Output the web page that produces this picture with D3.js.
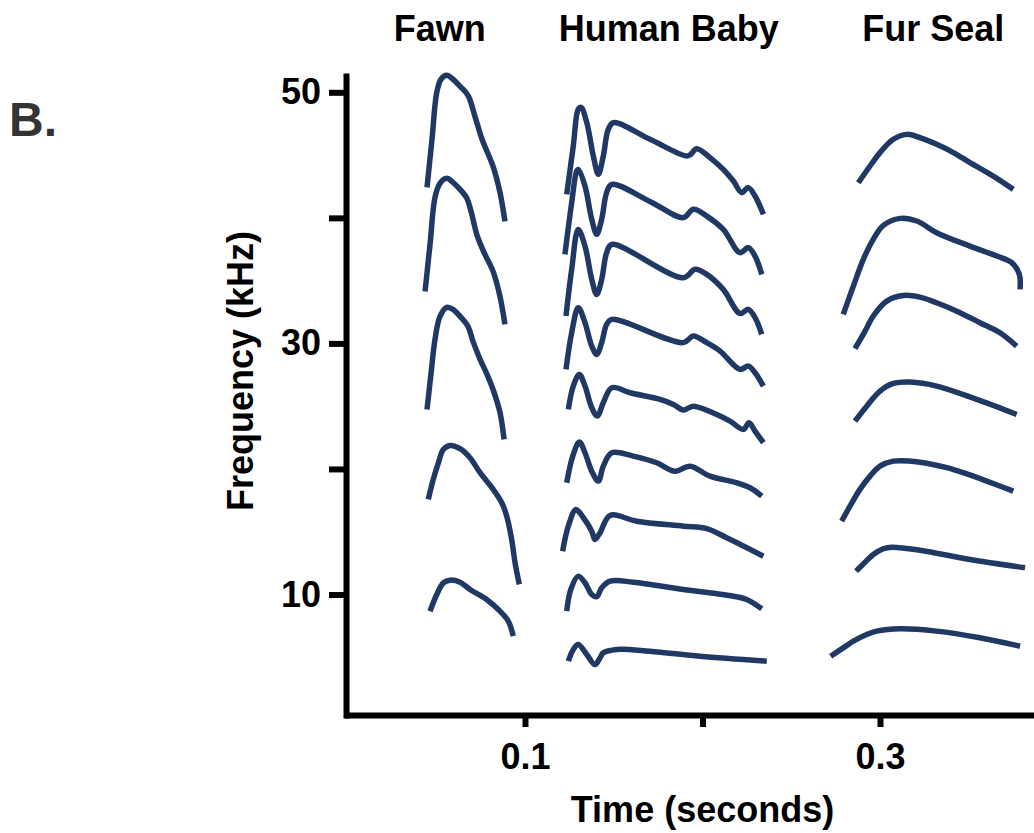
<!DOCTYPE html>
<html>
<head>
<meta charset="utf-8">
<script src="https://cdn.jsdelivr.net/npm/d3@7"></script>
<style>
  html, body { margin: 0; padding: 0; background: #fff; }
  svg { display: block; }
  text { font-family: "Liberation Sans", Arial, sans-serif; font-weight: bold; }
</style>
</head>
<body>
<svg id="chart" width="1034" height="833"></svg>
<script>
// ---------- DATA (time in seconds, frequency in kHz) ----------
const groupTitles = ["Fawn", "Human Baby", "Fur Seal"];
const groupTitleTimes = [0.052, 0.181, 0.330];

const yTickValues = [10, 20, 30, 40, 50];
const yTickLabels = ["10", "", "30", "", "50"];
const xTickValues = [0.1, 0.2, 0.3];
const xTickLabels = ["0.1", "", "0.3"];

const fawnCalls = [
  [[0.0448,42.43],[0.0476,46.26],[0.0503,50.00],[0.0527,51.04],[0.0559,51.35],[0.0594,51.04],[0.0634,50.48],[0.0679,49.76],[0.0718,48.09],[0.0758,46.26],[0.0820,44.10],[0.0859,42.03],[0.0887,39.72]],
  [[0.0437,34.14],[0.0465,37.89],[0.0493,41.63],[0.0521,42.75],[0.0559,43.15],[0.0594,42.83],[0.0634,42.27],[0.0673,41.55],[0.0696,40.52],[0.0730,38.61],[0.0769,37.25],[0.0820,35.74],[0.0859,33.75],[0.0887,31.51]],
  [[0.0448,24.74],[0.0470,27.53],[0.0493,30.32],[0.0521,32.15],[0.0559,32.87],[0.0594,32.71],[0.0634,32.15],[0.0679,31.35],[0.0707,30.16],[0.0747,28.73],[0.0786,27.53],[0.0820,26.33],[0.0859,24.50],[0.0882,22.35]],
  [[0.0455,17.57],[0.0483,19.16],[0.0512,20.49],[0.0540,21.55],[0.0578,21.87],[0.0634,21.61],[0.0690,20.89],[0.0747,19.70],[0.0821,18.37],[0.0869,17.31],[0.0897,16.24],[0.0925,14.38],[0.0944,12.53],[0.0968,10.80]],
  [[0.0465,8.67],[0.0503,10.00],[0.0540,10.93],[0.0578,11.14],[0.0634,10.98],[0.0690,10.40],[0.0784,9.60],[0.0859,8.67],[0.0906,7.87],[0.0934,6.68]]
];

const babyCalls = [
  [[0.1235,41.87],[0.1272,45.72],[0.1300,48.65],[0.1316,48.80],[0.1348,47.59],[0.1385,44.92],[0.1413,43.47],[0.1441,44.92],[0.1469,47.05],[0.1498,47.59],[0.1704,46.26],[0.1911,44.92],[0.1934,45.06],[0.1967,45.51],[0.2042,44.80],[0.2117,43.86],[0.2174,42.93],[0.2221,42.01],[0.2258,42.41],[0.2296,41.74],[0.2343,40.28]],
  [[0.1225,37.09],[0.1263,41.21],[0.1291,43.73],[0.1300,43.86],[0.1338,42.53],[0.1376,39.88],[0.1404,38.69],[0.1432,39.88],[0.1460,42.01],[0.1489,42.67],[0.1704,41.31],[0.1892,40.02],[0.1948,40.68],[0.2024,40.14],[0.2117,39.08],[0.2211,37.23],[0.2258,37.63],[0.2296,36.96],[0.2334,35.50]],
  [[0.1231,32.18],[0.1263,35.90],[0.1300,39.08],[0.1338,37.75],[0.1376,35.10],[0.1404,33.90],[0.1432,35.10],[0.1460,37.23],[0.1489,37.89],[0.1892,35.23],[0.1958,35.90],[0.2024,35.50],[0.2117,34.30],[0.2211,32.39],[0.2258,32.71],[0.2296,32.05],[0.2334,30.72]],
  [[0.1231,27.93],[0.1263,30.85],[0.1300,32.84],[0.1338,31.65],[0.1376,29.78],[0.1404,29.12],[0.1432,30.06],[0.1460,31.51],[0.1489,31.91],[0.1892,30.06],[0.1948,30.58],[0.2024,30.06],[0.2099,29.39],[0.2211,27.93],[0.2258,28.19],[0.2296,27.67],[0.2343,26.60]],
  [[0.1244,24.74],[0.1272,26.60],[0.1306,27.53],[0.1338,26.60],[0.1376,24.88],[0.1407,24.21],[0.1441,25.27],[0.1489,26.47],[0.1592,26.07],[0.1761,25.54],[0.1836,25.14],[0.1892,24.69],[0.1948,25.00],[0.2080,24.34],[0.2155,23.81],[0.2230,23.15],[0.2262,23.68],[0.2296,23.01],[0.2343,22.09]],
  [[0.1235,18.90],[0.1269,21.02],[0.1306,22.14],[0.1338,21.29],[0.1376,19.82],[0.1413,19.03],[0.1441,20.22],[0.1489,21.29],[0.1610,21.02],[0.1742,20.49],[0.1845,19.82],[0.1930,20.22],[0.2042,19.43],[0.2193,18.90],[0.2268,18.50],[0.2334,17.83]],
  [[0.1212,13.45],[0.1244,15.44],[0.1287,16.77],[0.1329,16.11],[0.1376,15.04],[0.1394,14.38],[0.1423,14.92],[0.1479,16.30],[0.1629,15.84],[0.1892,15.44],[0.2024,15.24],[0.2136,14.52],[0.2343,13.05]],
  [[0.1235,8.67],[0.1258,10.40],[0.1300,11.46],[0.1338,10.93],[0.1376,10.00],[0.1404,9.82],[0.1432,10.53],[0.1479,11.06],[0.1610,10.98],[0.1892,10.40],[0.2174,9.86],[0.2249,9.60],[0.2334,8.86]],
  [[0.1244,4.69],[0.1272,5.62],[0.1300,6.02],[0.1348,5.22],[0.1394,4.42],[0.1423,4.96],[0.1441,5.35],[0.1517,5.62],[0.1704,5.48],[0.1986,5.08],[0.2362,4.69]]
];

const sealCalls = [
  [[0.2878,42.80],[0.2944,44.13],[0.3000,45.20],[0.3075,46.26],[0.3150,46.65],[0.3225,46.39],[0.3319,45.86],[0.3413,45.20],[0.3507,44.40],[0.3638,43.33],[0.3751,42.27]],
  [[0.2793,32.31],[0.2850,34.57],[0.2906,36.69],[0.2962,38.29],[0.3019,39.40],[0.3113,39.96],[0.3207,39.75],[0.3319,38.82],[0.3507,37.75],[0.3658,36.96],[0.3742,36.43],[0.3785,35.50],[0.3789,34.30]],
  [[0.2859,29.58],[0.2916,30.98],[0.2962,32.18],[0.3038,33.37],[0.3131,33.82],[0.3225,33.69],[0.3319,33.24],[0.3451,32.45],[0.3563,31.65],[0.3676,30.85],[0.3770,29.78]],
  [[0.2859,23.81],[0.2925,25.00],[0.3000,26.20],[0.3075,26.81],[0.3169,26.92],[0.3319,26.60],[0.3545,25.54],[0.3770,24.34]],
  [[0.2784,15.84],[0.2831,17.04],[0.2887,18.37],[0.2944,19.43],[0.3000,20.22],[0.3075,20.62],[0.3225,20.54],[0.3376,20.10],[0.3469,19.70],[0.3601,19.03],[0.3751,18.23]],
  [[0.2865,11.86],[0.2916,12.57],[0.2962,13.19],[0.3019,13.64],[0.3066,13.77],[0.3225,13.53],[0.3507,12.79],[0.3817,12.13]],
  [[0.2722,5.08],[0.2793,5.75],[0.2850,6.28],[0.2925,6.81],[0.2981,7.08],[0.3113,7.27],[0.3319,7.08],[0.3563,6.55],[0.3789,5.88]]
];

// ---------- CHART ----------
const svg = d3.select("#chart");
svg.append("rect").attr("width", 1034).attr("height", 833).attr("fill", "#fff");

const x = d3.scaleLinear().domain([0, 0.4]).range([347.5, 1057.5]);
const y = d3.scaleLinear().domain([0.4, 51.3]).range([715, 76]);

const lineColor = "#1f3864";
const line = d3.line()
  .x(d => x(d[0]))
  .y(d => y(d[1]))
  .curve(d3.curveCatmullRom.alpha(0.5));

const allCalls = [].concat(fawnCalls, babyCalls, sealCalls);
svg.append("g").selectAll("path")
  .data(allCalls)
  .join("path")
  .attr("d", line)
  .attr("fill", "none")
  .attr("stroke", lineColor)
  .attr("stroke-width", 5.5)
  .attr("stroke-linejoin", "round");

// Y axis
const yAxis = d3.axisLeft(y)
  .tickValues(yTickValues)
  .tickFormat((d, i) => yTickLabels[i])
  .tickSizeInner(17)
  .tickSizeOuter(0)
  .tickPadding(8);
const gy = svg.append("g").attr("transform", "translate(346,0)").call(yAxis);

// X axis
const xAxis = d3.axisBottom(x)
  .tickValues(xTickValues)
  .tickFormat((d, i) => xTickLabels[i])
  .tickSizeInner(12)
  .tickSizeOuter(0)
  .tickPadding(16);
const gx = svg.append("g").attr("transform", "translate(0,715)").call(xAxis);

[gx, gy].forEach(g => {
  g.select(".domain").attr("stroke", "#000").attr("stroke-width", 6).attr("stroke-linecap", "square");
  g.selectAll(".tick line").attr("stroke", "#000").attr("stroke-width", 6);
  g.selectAll(".tick text")
    .attr("fill", "#000")
    .style("font-size", "36px")
    .style("font-family", "'Liberation Sans', Arial, sans-serif")
    .style("font-weight", "bold");
});

// Group titles
svg.append("g").selectAll("text")
  .data(groupTitles)
  .join("text")
  .attr("x", (d, i) => x(groupTitleTimes[i]))
  .attr("y", 41)
  .attr("text-anchor", "middle")
  .style("font-size", "36px")
  .attr("fill", "#000")
  .text(d => d);

// Axis titles
svg.append("text")
  .attr("x", x(0.2))
  .attr("y", 822)
  .attr("text-anchor", "middle")
  .style("font-size", "36px")
  .attr("fill", "#000")
  .text("Time (seconds)");

svg.append("text")
  .attr("transform", "translate(253,371) rotate(-90)")
  .attr("text-anchor", "middle")
  .style("font-size", "36px")
  .attr("fill", "#000")
  .text("Frequency (kHz)");

// Panel letter
svg.append("text")
  .attr("x", 9)
  .attr("y", 136)
  .style("font-size", "48px")
  .attr("fill", "#333")
  .text("B.");
</script>
</body>
</html>
